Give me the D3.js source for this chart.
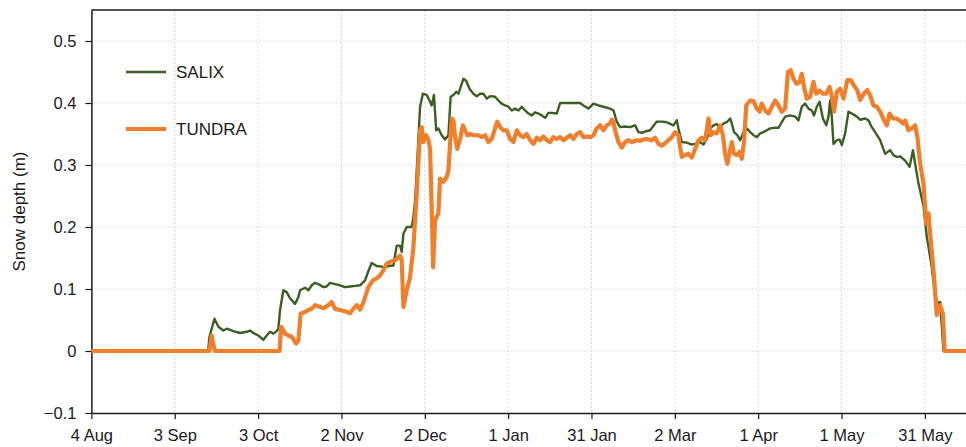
<!DOCTYPE html>
<html>
<head>
<meta charset="utf-8">
<script src="https://cdn.jsdelivr.net/npm/d3@7"></script>
<style>
  body { margin: 0; background: #fff; }
  svg { display: block; font-family: "Liberation Sans", Arial, sans-serif; }
  .grid line { stroke: #d9d9d9; stroke-width: 1; stroke-dasharray: 2,2; }
  .axis text { font-size: 16.5px; fill: #1a1a1a; }
  .axis path, .axis line { stroke: #1a1a1a; }
</style>
</head>
<body>
<div id="chart"></div>
<script>
// Snow depth at the SALIX and TUNDRA sites, 4 Aug - mid June
// values are [days since 4 Aug, depth in m]

const startDate = "2013-08-04";
const endDay = 314.8;

const salix = [
  [0, 0], [42, 0], [42.5, 0.023], [44.3, 0.052], [45.7, 0.039], [47.5, 0.033], [48.7, 0.036],
  [51.1, 0.032], [53.5, 0.029], [55.9, 0.031], [57.1, 0.033], [58.3, 0.029], [60.1, 0.025],
  [61.9, 0.018], [63.1, 0.025], [64.3, 0.031], [65.5, 0.028], [66.7, 0.032], [67.3, 0.036],
  [67.9, 0.066], [69.1, 0.098], [70.3, 0.095], [71.5, 0.085], [73.3, 0.076], [74.5, 0.087],
  [75.1, 0.098], [76.9, 0.102], [78.1, 0.098], [79.3, 0.106], [80.5, 0.110], [81.7, 0.108],
  [83.5, 0.103], [84.7, 0.104], [85.9, 0.110], [87.7, 0.108], [89.5, 0.106], [91.3, 0.103],
  [93.1, 0.104], [94.9, 0.105], [96.7, 0.106], [98.5, 0.114], [99.7, 0.129], [100.9, 0.142],
  [102.7, 0.137], [104.5, 0.136], [105.7, 0.134], [106.9, 0.137], [108.7, 0.138], [109.9, 0.170],
  [111.1, 0.170], [111.7, 0.160], [112.3, 0.189], [113.5, 0.200], [115.3, 0.200], [115.9, 0.216],
  [116.5, 0.243], [117.1, 0.291], [118.3, 0.394], [119.3, 0.415], [120.7, 0.413], [121.9, 0.402],
  [122.5, 0.396], [123.3, 0.413], [124.1, 0.356], [124.9, 0.359], [126.1, 0.348], [127.3, 0.341],
  [128.5, 0.348], [129.3, 0.410], [130.3, 0.413], [131.3, 0.418], [132.1, 0.415], [133.9, 0.439],
  [134.9, 0.436], [136.1, 0.423], [137.5, 0.415], [138.7, 0.411], [139.9, 0.415], [141.1, 0.415],
  [142.3, 0.407], [143.5, 0.411], [145.3, 0.410], [146.5, 0.404], [147.7, 0.399], [148.9, 0.396],
  [150.1, 0.394], [151.3, 0.388], [152.5, 0.391], [153.7, 0.388], [154.9, 0.394], [156.1, 0.388],
  [157.3, 0.383], [158.5, 0.380], [159.7, 0.385], [160.9, 0.383], [162.1, 0.380], [163.3, 0.376],
  [164.5, 0.384], [165.7, 0.384], [167.5, 0.383], [168.7, 0.400], [171.1, 0.400], [173.5, 0.400],
  [175.9, 0.400], [177.1, 0.396], [178.9, 0.391], [180.7, 0.399], [182.5, 0.396], [184.3, 0.394],
  [186.7, 0.391], [187.9, 0.388], [189.1, 0.370], [190.3, 0.361], [192.1, 0.362], [193.9, 0.361],
  [195.7, 0.364], [196.9, 0.353], [198.1, 0.352], [199.3, 0.354], [201.1, 0.356], [203.5, 0.370],
  [205.3, 0.370], [207.1, 0.369], [209.5, 0.364], [210.7, 0.372], [211.3, 0.359], [212.5, 0.337],
  [214.3, 0.336], [216.1, 0.333], [217.3, 0.334], [219.1, 0.337], [220.3, 0.333], [221.5, 0.342],
  [222.7, 0.359], [223.9, 0.364], [225.1, 0.366], [226.3, 0.361], [227.5, 0.367], [228.7, 0.369],
  [229.9, 0.375], [230.5, 0.367], [231.3, 0.353], [232.5, 0.348], [233.5, 0.340], [234.7, 0.353],
  [235.9, 0.359], [237.1, 0.353], [238.3, 0.348], [239.5, 0.345], [240.7, 0.351], [241.9, 0.353],
  [243.1, 0.356], [244.3, 0.359], [246.1, 0.360], [247.3, 0.360], [248.5, 0.369], [249.7, 0.378],
  [251.5, 0.380], [253.3, 0.378], [254.5, 0.372], [255.7, 0.394], [256.9, 0.399], [258.1, 0.391],
  [259.3, 0.388], [260.1, 0.380], [261.1, 0.394], [262.1, 0.402], [263.3, 0.375], [264.5, 0.364],
  [265.3, 0.378], [265.9, 0.404], [266.5, 0.378], [267.1, 0.334], [268.3, 0.340], [269.3, 0.341],
  [270.1, 0.332], [271.3, 0.351], [272.5, 0.386], [273.7, 0.383], [275.5, 0.378], [276.7, 0.373],
  [278.5, 0.375], [279.7, 0.372], [280.9, 0.361], [282.1, 0.353], [283.9, 0.340], [285.7, 0.318],
  [287.5, 0.324], [288.7, 0.316], [289.9, 0.313], [291.1, 0.314], [292.9, 0.307], [294.5, 0.297],
  [295.7, 0.324], [296.5, 0.302], [297.7, 0.270], [299.5, 0.234], [300.7, 0.184], [302.5, 0.135],
  [303.7, 0.087], [304.9, 0.076], [305.5, 0.079], [306.7, 0], [314.8, 0]
];

const tundra = [
  [0, 0], [42.5, 0], [43.3, 0.025], [43.9, 0.010], [44.5, 0], [67.7, 0], [68.3, 0.039],
  [69.7, 0.028], [70.9, 0.025], [72.1, 0.023], [73.7, 0.012], [74.5, 0.017], [75.3, 0.060],
  [76.9, 0.063], [78.1, 0.066], [79.3, 0.068], [80.5, 0.074], [82.3, 0.071], [83.5, 0.069],
  [85.3, 0.074], [86.5, 0.079], [87.7, 0.068], [89.5, 0.066], [91.3, 0.064], [93.1, 0.061],
  [94.3, 0.068], [95.5, 0.074], [96.7, 0.067], [97.9, 0.078], [98.5, 0.087], [99.7, 0.103],
  [101.3, 0.114], [102.7, 0.117], [103.9, 0.122], [105.1, 0.130], [106.3, 0.141], [107.5, 0.144],
  [109.3, 0.146], [111.1, 0.154], [111.7, 0.146], [112.3, 0.071], [113.5, 0.098], [114.7, 0.119],
  [115.9, 0.168], [117.1, 0.254], [118.3, 0.356], [118.9, 0.361], [119.5, 0.337], [120.5, 0.348],
  [121.3, 0.340], [121.9, 0.326], [122.5, 0.227], [123.0, 0.135], [123.7, 0.211], [124.9, 0.222],
  [125.5, 0.278], [126.7, 0.273], [127.9, 0.281], [128.5, 0.291], [129.1, 0.334], [129.7, 0.375],
  [130.3, 0.372], [130.9, 0.345], [131.7, 0.326], [132.7, 0.342], [133.7, 0.364], [134.5, 0.356],
  [135.3, 0.348], [136.3, 0.350], [137.5, 0.348], [139.3, 0.348], [140.5, 0.345], [141.7, 0.348],
  [142.9, 0.337], [144.1, 0.342], [145.3, 0.359], [146.1, 0.370], [147.1, 0.361], [148.3, 0.356],
  [149.5, 0.356], [150.7, 0.342], [151.9, 0.337], [153.1, 0.356], [154.3, 0.348], [155.5, 0.345],
  [156.7, 0.350], [157.9, 0.340], [159.1, 0.334], [160.3, 0.344], [161.5, 0.340], [162.7, 0.346],
  [163.9, 0.340], [165.1, 0.337], [166.3, 0.345], [167.5, 0.342], [168.7, 0.345], [169.9, 0.340],
  [171.1, 0.344], [172.3, 0.348], [173.5, 0.342], [174.7, 0.350], [175.9, 0.353], [177.1, 0.345],
  [178.3, 0.346], [179.5, 0.345], [180.7, 0.348], [181.9, 0.359], [183.1, 0.364], [184.3, 0.356],
  [185.5, 0.364], [186.7, 0.367], [187.3, 0.373], [187.9, 0.369], [188.5, 0.356], [189.7, 0.337],
  [190.9, 0.328], [192.1, 0.337], [193.3, 0.340], [194.5, 0.337], [196.3, 0.340], [197.5, 0.339],
  [198.7, 0.341], [199.9, 0.342], [201.7, 0.340], [202.9, 0.344], [204.1, 0.334], [205.3, 0.331],
  [206.5, 0.335], [207.7, 0.340], [208.9, 0.345], [210.1, 0.353], [211.3, 0.348], [211.9, 0.329],
  [212.5, 0.313], [213.7, 0.316], [214.9, 0.318], [216.1, 0.312], [217.3, 0.326], [218.5, 0.340],
  [219.7, 0.344], [220.9, 0.340], [222.1, 0.375], [222.9, 0.348], [223.9, 0.353], [225.1, 0.351],
  [226.3, 0.364], [227.3, 0.348], [228.1, 0.318], [228.9, 0.302], [229.9, 0.324], [230.5, 0.337],
  [231.3, 0.318], [232.3, 0.316], [233.3, 0.321], [234.1, 0.310], [234.9, 0.337], [235.7, 0.396],
  [237.1, 0.404], [238.3, 0.403], [239.5, 0.391], [240.5, 0.386], [241.3, 0.399], [242.5, 0.388],
  [243.7, 0.383], [244.9, 0.394], [246.1, 0.404], [247.3, 0.396], [248.5, 0.386], [249.7, 0.391],
  [250.7, 0.450], [251.7, 0.453], [252.7, 0.439], [253.9, 0.431], [254.9, 0.434], [255.7, 0.447],
  [256.5, 0.426], [257.5, 0.407], [258.7, 0.410], [259.9, 0.434], [260.9, 0.415], [262.1, 0.420],
  [263.3, 0.415], [264.5, 0.415], [265.7, 0.426], [266.5, 0.410], [267.3, 0.386], [268.3, 0.418],
  [269.5, 0.423], [270.7, 0.407], [272.1, 0.437], [273.3, 0.437], [274.5, 0.428], [275.7, 0.420],
  [276.7, 0.405], [278.1, 0.415], [279.3, 0.421], [280.5, 0.410], [281.5, 0.396], [282.7, 0.394],
  [283.9, 0.386], [285.3, 0.372], [286.3, 0.364], [287.3, 0.383], [288.5, 0.375], [289.7, 0.375],
  [290.9, 0.372], [292.1, 0.367], [292.9, 0.372], [294.1, 0.356], [295.3, 0.359], [296.5, 0.364],
  [297.3, 0.345], [298.3, 0.302], [299.5, 0.270], [300.5, 0.205], [301.3, 0.222], [301.9, 0.189],
  [303.1, 0.130], [304.3, 0.058], [305.5, 0.074], [306.5, 0.060], [307.1, 0], [314.8, 0]
];

const xTickDates = ["2013-08-04", "2013-09-03", "2013-10-03", "2013-11-02", "2013-12-02",
  "2014-01-01", "2014-01-31", "2014-03-02", "2014-04-01", "2014-05-01", "2014-05-31"];
const yTicks = [-0.1, 0, 0.1, 0.2, 0.3, 0.4, 0.5];

const seriesNames = ["SALIX", "TUNDRA"];
const seriesColors = ["#3b5e22", "#f07f2c"];
const seriesWidths = [2.4, 4.2];

const W = 966, H = 447;
const margin = { top: 10, right: 0, bottom: 34, left: 91.4 };

const parse = d3.utcParse("%Y-%m-%d");
const t0 = parse(startDate);
const dayToDate = d => new Date(t0.getTime() + d * 864e5);

const svg = d3.select("#chart").append("svg")
    .attr("width", W)
    .attr("height", H);

const x = d3.scaleUtc()
    .domain([t0, dayToDate(endDay)])
    .range([margin.left, W - margin.right]);

const y = d3.scaleLinear()
    .domain([-0.1, 0.55])
    .range([H - margin.bottom, margin.top]);

const xTicks = xTickDates.map(parse);

// dotted grid
svg.append("g").attr("class", "grid")
    .selectAll("line.v").data(xTicks.slice(1)).enter().append("line")
    .attr("x1", d => x(d)).attr("x2", d => x(d))
    .attr("y1", y.range()[1]).attr("y2", y.range()[0]);

svg.append("g").attr("class", "grid")
    .selectAll("line.h").data(yTicks.slice(1)).enter().append("line")
    .attr("x1", x.range()[0]).attr("x2", x.range()[1])
    .attr("y1", d => y(d)).attr("y2", d => y(d));

// axes
svg.append("g")
    .attr("class", "axis")
    .attr("transform", `translate(0,${y(-0.1)})`)
    .call(d3.axisBottom(x).tickValues(xTicks).tickFormat(d3.utcFormat("%-d %b"))
        .tickSizeInner(6).tickSizeOuter(0).tickPadding(10));

const yFmt = d3.format(".1f");
svg.append("g")
    .attr("class", "axis")
    .attr("transform", `translate(${margin.left},0)`)
    .call(d3.axisLeft(y).tickValues(yTicks).tickFormat(d => d === 0 ? "0" : yFmt(d))
        .tickSizeInner(6).tickSizeOuter(0).tickPadding(9));

svg.selectAll(".axis path.domain").attr("stroke-width", 1.5);
svg.selectAll(".axis .tick line").attr("stroke-width", 1.2);

// top frame line
svg.append("line")
    .attr("x1", x.range()[0]).attr("x2", x.range()[1])
    .attr("y1", y.range()[1]).attr("y2", y.range()[1])
    .attr("stroke", "#1a1a1a").attr("stroke-width", 1.5);

// y label
svg.append("text")
    .attr("transform", `translate(25,${(y(0.55) + y(-0.1)) / 2}) rotate(-90)`)
    .attr("text-anchor", "middle")
    .style("font-size", "17px")
    .style("fill", "#1a1a1a")
    .text("Snow depth (m)");

// series
const line = d3.line()
    .x(d => x(dayToDate(d[0])))
    .y(d => y(d[1]));

[salix, tundra].forEach((data, i) => {
    svg.append("path")
        .datum(data)
        .attr("fill", "none")
        .attr("stroke", seriesColors[i])
        .attr("stroke-width", seriesWidths[i])
        .attr("stroke-linejoin", "round")
        .attr("d", line);
});

// legend
const legend = svg.append("g").attr("transform", "translate(126,72)");
seriesNames.forEach((name, i) => {
    const g = legend.append("g").attr("transform", `translate(0,${i * 57})`);
    g.append("line")
        .attr("x1", 0).attr("x2", 40)
        .attr("stroke", seriesColors[i])
        .attr("stroke-width", seriesWidths[i]);
    g.append("text")
        .attr("x", 50).attr("dy", "0.35em")
        .style("font-size", "17px")
        .style("fill", "#1a1a1a")
        .text(name);
});
</script>
</body>
</html>
